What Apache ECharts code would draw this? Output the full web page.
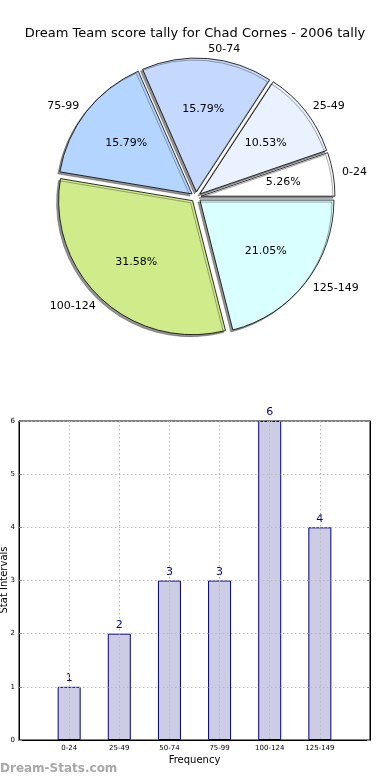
<!DOCTYPE html>
<html><head><meta charset="utf-8">
<script src="https://cdn.jsdelivr.net/npm/echarts@6/dist/echarts.min.js"></script>
<style>html,body{margin:0;padding:0;background:#fff}#c{width:390px;height:780px}</style>
</head><body><div id="c"></div>
<script>
var titleText = 'Dream Team score tally for Chad Cornes - 2006 tally';
var categories = ['0-24','25-49','50-74','75-99','100-124','125-149'];
var counts = [1, 2, 3, 3, 6, 4];
var sliceColors = ['#ffffff','#eaf1ff','#c5d9ff','#b4d5ff','#d0eb8a','#d9ffff'];
var yTicks = [0,1,2,3,4,5,6];

var FONT = 'DejaVu Sans';
var R = 134;
var C = [196, 197];

var pieData = categories.map(function(c, i){
  return {name: c, value: counts[i], selected: true, itemStyle: {color: sliceColors[i]}};
});
var pieLabelData = categories.map(function(c, i){
  return {name: c, value: counts[i], selected: true};
});

var chart = echarts.init(document.getElementById('c'), null, {renderer: 'canvas'});
chart.setOption({
  animation: false,
  backgroundColor: '#fff',
  title: {text: titleText, left: 'center', top: 22,
    textStyle: {fontFamily: FONT, fontSize: 13, fontWeight: 'normal', color: '#000'}},
  graphic: [
    {type: 'text', left: 0, top: 763,
     style: {text: 'Dream-Stats.com', fontFamily: FONT, fontSize: 12, fontWeight: 'bold', fill: '#a8a8a8'}},
    {type: 'text', x: 4, y: 580, rotation: Math.PI / 2,
     style: {text: 'Stat Intervals', fontFamily: FONT, fontSize: 10, fill: '#000', align: 'center', verticalAlign: 'middle'}}
  ],
  grid: {left: 19, right: 20, top: 421, bottom: 40, show: true, borderColor: '#000', borderWidth: 1,
    containLabel: false, outerBoundsMode: 'none', z: 3},
  xAxis: {type: 'value', min: -1, max: 6, interval: 1, z: 3,
    name: 'Frequency', nameLocation: 'middle', nameGap: 15,
    nameTextStyle: {fontFamily: FONT, fontSize: 10, color: '#000'},
    axisLine: {show: true, onZero: false, lineStyle: {color: '#000'}},
    axisTick: {show: false},
    axisLabel: {fontFamily: FONT, fontSize: 7, color: '#000', margin: 5,
      formatter: function(v){ return categories[v] !== undefined ? categories[v] : ''; }},
    splitLine: {show: true, lineStyle: {color: '#b8b8b8', type: [1.5, 2.5], width: 1}}},
  yAxis: [{type: 'value', min: yTicks[0], max: yTicks[yTicks.length-1], interval: 1, z: 3,
    axisLine: {show: true, onZero: false, lineStyle: {color: '#000'}},
    axisTick: {show: true, inside: true, length: 3, lineStyle: {color: '#888'}},
    axisLabel: {fontFamily: FONT, fontSize: 7, color: '#000', margin: 4},
    splitLine: {show: true, lineStyle: {color: '#b8b8b8', type: [1.5, 2.5], width: 1}}},
   {type: 'value', min: yTicks[0], max: yTicks[yTicks.length-1], interval: 1, position: 'right', z: 3,
    axisLine: {show: true, onZero: false, lineStyle: {color: '#000'}},
    axisTick: {show: true, inside: true, length: 3, lineStyle: {color: '#888'}},
    axisLabel: {show: false}, splitLine: {show: false}}],
  series: [
    {type: 'pie', center: C, radius: [0, R], startAngle: 0, clockwise: false,
     selectedMode: 'multiple', selectedOffset: 5, silent: true,
     emphasis: {disabled: true}, avoidLabelOverlap: false,
     data: pieData,
     itemStyle: {borderColor: '#000', borderWidth: 0.8,
       shadowColor: 'rgba(60,60,60,0.55)', shadowBlur: 0.5, shadowOffsetX: -2, shadowOffsetY: 2},
     label: {show: true, position: 'outside', fontFamily: FONT, fontSize: 11, color: '#000',
       formatter: '{b}', distanceToLabelLine: 0},
     labelLine: {show: false, length: 9, length2: 0}},
    {type: 'pie', center: C, radius: [R * 0.2, R], startAngle: 0, clockwise: false,
     selectedMode: 'multiple', selectedOffset: 5, silent: true,
     emphasis: {disabled: true}, z: 3,
     data: pieLabelData,
     itemStyle: {color: 'rgba(0,0,0,0)', borderWidth: 0},
     label: {show: true, position: 'inside', fontFamily: FONT, fontSize: 11, color: '#000',
       formatter: '{d}%'},
     labelLine: {show: false}},
    {type: 'bar', xAxisIndex: 0, yAxisIndex: 0, barWidth: 23,
     data: categories.map(function(c, i){ return [i, counts[i]]; }),
     itemStyle: {color: '#cccce4', borderColor: '#000080', borderWidth: 1},
     label: {show: true, position: 'top', distance: 3, fontFamily: FONT, fontSize: 11, color: '#000080'}}
  ]
});
</script></body></html>
